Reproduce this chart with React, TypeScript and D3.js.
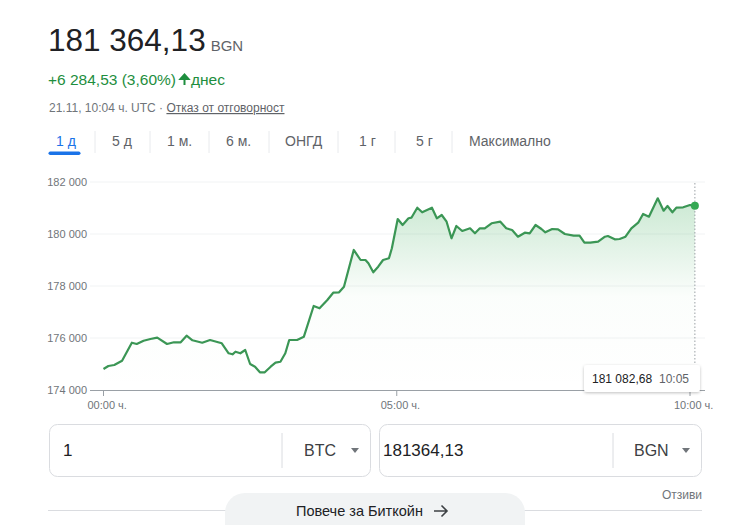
import React, { useMemo } from "react";
import * as d3 from "d3";

// ---- Data ----
const timeMinutes: number[] = [
  0, 5, 11, 19, 29, 34, 41, 48, 55, 65, 72, 79, 85, 91, 101, 109, 121, 128, 132, 135,
  140, 145, 150, 155, 160, 165, 171, 176, 181, 186, 190, 198, 205, 215, 221, 229, 235, 241, 246, 256,
  263, 268, 271, 276, 281, 286, 292, 295, 301, 306, 312, 315, 321, 326, 331, 336, 341, 346, 351, 356,
  361, 367, 375, 380, 385, 390, 397, 406, 412, 418, 424, 431, 436, 442, 448, 452, 459, 465, 472, 481,
  487, 492, 498, 506, 513, 516, 523, 528, 534, 540, 547, 552, 558, 567, 573, 577, 582, 586, 593, 600, 605,
];
const prices: number[] = [
  174808, 174923, 174962, 175127, 175819, 175769, 175896, 175962, 176012, 175769, 175835, 175835, 176088, 175912, 175819, 175923, 175796, 175412, 175373, 175473,
  175412, 175538, 175000, 174896, 174681, 174681, 174896, 175050, 175088, 175412, 175923, 175923, 176050, 177231, 177142, 177462, 177742, 177758, 177973, 179385,
  179000, 179000, 178873, 178527, 178742, 179000, 179065, 179450, 180577, 180346, 180604, 180627, 181012, 180835, 180923, 181012, 180604, 180731, 180473, 179835,
  180308, 180115, 180219, 180027, 180219, 180219, 180412, 180473, 180219, 180154, 179896, 180050, 180027, 180346, 180192, 180065, 180192, 180181, 180000, 179935,
  179935, 179665, 179665, 179704, 179896, 179923, 179796, 179808, 179896, 180219, 180435, 180769, 180665, 181373, 180896, 181077, 180835, 181012, 181027, 181115, 181082.68,
];
const yTicks: number[] = [174000, 176000, 178000, 180000, 182000];
const xTicks: number[] = [0, 300, 600];
const xTickLabels: string[] = ["00:00", "05:00", "10:00"];
const tabs: string[] = ["1 д", "5 д", "1 м.", "6 м.", "ОНГД", "1 г", "5 г", "Максимално"];
const tabX: number[] = [56, 112, 167, 226, 285, 359, 416, 469];
const tabSeparators: number[] = [95, 150, 209, 269, 338, 395, 452];

const FONT = "Arial, 'Liberation Sans', sans-serif";
const GREEN_LINE = "#3b9655";

function fmtThousands(v: number): string {
  const s = Math.round(v).toString();
  return s.replace(/\B(?=(\d{3})+(?!\d))/g, " ");
}

export default function App() {
  const x = useMemo(() => d3.scaleLinear().domain([0, 600]).range([103.5, 690]), []);
  const y = useMemo(() => d3.scaleLinear().domain([174000, 182000]).range([390, 182]), []);

  const pts = timeMinutes.map((t, i) => [t, prices[i]] as [number, number]);
  const line = d3
    .line<[number, number]>()
    .x((d) => x(d[0]))
    .y((d) => y(d[1]));
  const area = d3
    .area<[number, number]>()
    .x((d) => x(d[0]))
    .y0(390)
    .y1((d) => y(d[1]));

  const last = pts[pts.length - 1];
  const lx = x(last[0]);
  const ly = y(last[1]);

  return (
    <svg
      width={750}
      height={525}
      style={{ position: "absolute", left: 0, top: 0, background: "#fff" }}
      fontFamily={FONT}
    >
      <defs>
        <linearGradient id="areaGrad" gradientUnits="userSpaceOnUse" x1="0" y1="182" x2="0" y2="390">
          <stop offset="0" stopColor="#34a853" stopOpacity={0.3} />
          <stop offset="0.55" stopColor="#34a853" stopOpacity={0.02} />
          <stop offset="1" stopColor="#34a853" stopOpacity={0} />
        </linearGradient>
        <filter id="shadow" x="-20%" y="-40%" width="140%" height="180%">
          <feDropShadow dx="0" dy="1" stdDeviation="1.5" floodColor="#000" floodOpacity="0.25" />
        </filter>
      </defs>

      {/* Header */}
      <text x={48} y={51} fontSize={31.5} fill="#202124">
        181 364,13
        <tspan dx={5} fontSize={15} fill="#5f6368">BGN</tspan>
      </text>
      <text x={48} y={85} fontSize={15.5} fill="#1e8e3e">
        +6 284,53 (3,60%)
      </text>
      <path d="M184.5,85 L184.5,77 M180.5,79 L184.5,74.5 L188.5,79 Z" stroke="#1e8e3e" strokeWidth={2} fill="#1e8e3e" />
      <text x={191} y={85} fontSize={15.5} fill="#1e8e3e">днес</text>
      <text x={49} y={112} fontSize={12} fill="#70757a">
        21.11, 10:04 ч. UTC ·{" "}
        <tspan fill="#5f6368" textDecoration="underline">Отказ от отговорност</tspan>
      </text>

      {/* Tabs */}
      {tabs.map((t, i) => (
        <text key={t} x={tabX[i]} y={146} fontSize={14} fill={i === 0 ? "#1a73e8" : "#5f6368"}>
          {t}
        </text>
      ))}
      {tabSeparators.map((sx) => (
        <line key={sx} x1={sx} x2={sx} y1={131} y2={153} stroke="#e8eaed" strokeWidth={1} />
      ))}
      <rect x={48.5} y={151.5} width={32} height={3.5} rx={1.75} fill="#1a73e8" />

      {/* Grid */}
      {yTicks.map((v) => (
        <g key={v}>
          {v !== 174000 && (
            <line x1={90} x2={705} y1={y(v)} y2={y(v)} stroke="#f1f3f4" strokeWidth={1} />
          )}
          <text x={87} y={y(v) + 4} fontSize={11} fill="#70757a" textAnchor="end">
            {fmtThousands(v)}
          </text>
        </g>
      ))}

      {/* Area and line */}
      <path d={area(pts) || ""} fill="url(#areaGrad)" />
      <path d={line(pts) || ""} fill="none" stroke={GREEN_LINE} strokeWidth={2.2} strokeLinejoin="round" />

      {/* Axis */}
      <line x1={90} x2={705} y1={390.5} y2={390.5} stroke="#9aa0a6" strokeWidth={1} />
      {xTicks.map((t, i) => (
        <g key={t}>
          <line x1={x(t)} x2={x(t)} y1={390} y2={396} stroke="#9aa0a6" strokeWidth={1} />
          <text x={x(t) - 16} y={409} fontSize={11} fill="#70757a">
            {xTickLabels[i]} ч.
          </text>
        </g>
      ))}

      {/* Hover marker */}
      <line x1={lx} x2={lx} y1={183} y2={390} stroke="#9aa0a6" strokeWidth={1} strokeDasharray="1.5,2" />
      <circle cx={lx} cy={ly} r={4} fill="#34a853" />

      {/* Tooltip */}
      <rect x={584} y={365} width={116} height={27} rx={3} fill="#fff" filter="url(#shadow)" />
      <text x={592} y={383} fontSize={12} fill="#202124">
        181 082,68
      </text>
      <text x={659} y={383} fontSize={12} fill="#5f6368">
        10:05
      </text>

      {/* Converter */}
      <rect x={49.5} y={424.5} width={321} height={52} rx={8} fill="#fff" stroke="#dadce0" />
      <line x1={282} x2={282} y1={433} y2={468} stroke="#dadce0" />
      <text x={63} y={456} fontSize={17} fill="#202124">1</text>
      <text x={304} y={456} fontSize={16} fill="#3c4043">BTC</text>
      <path d="M351,448 L359,448 L355,453 Z" fill="#70757a" />

      <rect x={379.5} y={424.5} width={322} height={52} rx={8} fill="#fff" stroke="#dadce0" />
      <line x1={613} x2={613} y1={433} y2={468} stroke="#dadce0" />
      <text x={383} y={456} fontSize={17} fill="#202124">181364,13</text>
      <text x={634} y={456} fontSize={16} fill="#3c4043">BGN</text>
      <path d="M682,448 L690,448 L686,453 Z" fill="#70757a" />

      <text x={702} y={499} fontSize={12} fill="#70757a" textAnchor="end">Отзиви</text>
      <line x1={48} x2={702} y1={510.5} y2={510.5} stroke="#dadce0" />
      <rect x={225} y={493} width={300} height={50} rx={20} fill="#f1f3f4" />
      <text x={296} y={516} fontSize={14.5} fill="#202124">
        Повече за Биткойн
      </text>
      <path d="M434,511 L447,511 M441.5,505.5 L447,511 L441.5,516.5" stroke="#3c4043" strokeWidth={1.6} fill="none" />
    </svg>
  );
}
